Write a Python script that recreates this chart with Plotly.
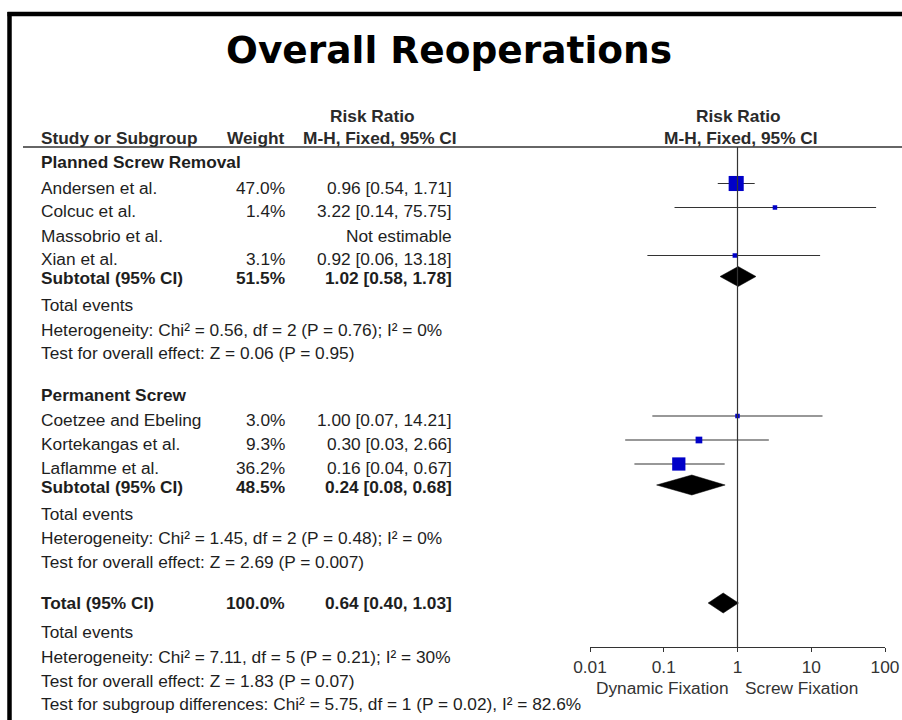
import plotly.graph_objects as go
import math

# ---------------- data ----------------
title_text = "Overall Reoperations"

group_names = ["Planned Screw Removal", "Permanent Screw"]

study_names = ["Andersen et al.", "Colcuc et al.", "Massobrio et al.", "Xian et al.",
               "Coetzee and Ebeling", "Kortekangas et al.", "Laflamme et al."]
study_group = [0, 0, 0, 0, 1, 1, 1]
study_weight = [47.0, 1.4, None, 3.1, 3.0, 9.3, 36.2]
study_rr = [0.96, 3.22, None, 0.92, 1.00, 0.30, 0.16]
study_low = [0.54, 0.14, None, 0.06, 0.07, 0.03, 0.04]
study_high = [1.71, 75.75, None, 13.18, 14.21, 2.66, 0.67]

sub_weight = [51.5, 48.5]
sub_rr = [1.02, 0.24]
sub_low = [0.58, 0.08]
sub_high = [1.78, 0.68]
sub_het = ["Heterogeneity: Chi² = 0.56, df = 2 (P = 0.76); I² = 0%",
           "Heterogeneity: Chi² = 1.45, df = 2 (P = 0.48); I² = 0%"]
sub_test = ["Test for overall effect: Z = 0.06 (P = 0.95)",
            "Test for overall effect: Z = 2.69 (P = 0.007)"]

total_weight = 100.0
total_rr = 0.64
total_low = 0.40
total_high = 1.03
total_het = "Heterogeneity: Chi² = 7.11, df = 5 (P = 0.21); I² = 30%"
total_test = "Test for overall effect: Z = 1.83 (P = 0.07)"
subgroup_test = "Test for subgroup differences: Chi² = 5.75, df = 1 (P = 0.02), I² = 82.6%"

tick_vals = [0.01, 0.1, 1, 10, 100]
tick_text = ["0.01", "0.1", "1", "10", "100"]
favours_left = "Dynamic Fixation"
favours_right = "Screw Fixation"

# ---------------- layout helpers ----------------
W, H = 902, 720
FONT = "Liberation Sans, Arial, sans-serif"
TXT = "#1e1e1e"
FS = 17.3

def px(x):
    return x / W

def py(y):
    return 1 - y / H

annotations = []

def text(x, y, s, anchor="left", bold=False, size=FS, color=TXT, family=FONT):
    if bold:
        s = "<b>" + s + "</b>"
    annotations.append(dict(x=px(x), y=py(y), xref="paper", yref="paper", text=s,
                            showarrow=False, xanchor=anchor, yanchor="middle",
                            font=dict(family=family, size=size, color=color)))

def fmt_ci(r, lo, hi):
    return f"{r:.2f} [{lo:.2f}, {hi:.2f}]"

X_NAME = 39
X_WEIGHT = 287
X_CI = 454
TEXT_DY = 1  # text vs row center

fig = go.Figure()

# ---------------- rows ----------------
cursor = 161
rows_marker = []   # (y, rr, lo, hi, w)
rows_diamond = []  # (y, rr, lo, hi)

for g, gname in enumerate(group_names):
    if g > 0:
        cursor += 41
    text(X_NAME, cursor + TEXT_DY, gname, bold=True)
    first = True
    for i, name in enumerate(study_names):
        if study_group[i] != g:
            continue
        cursor += 25.5 if first else 24
        first = False
        text(X_NAME, cursor + TEXT_DY, name)
        if study_rr[i] is None:
            text(X_CI, cursor + TEXT_DY, "Not estimable", anchor="right")
        else:
            text(X_WEIGHT, cursor + TEXT_DY, f"{study_weight[i]:.1f}%", anchor="right")
            text(X_CI, cursor + TEXT_DY, fmt_ci(study_rr[i], study_low[i], study_high[i]), anchor="right")
            rows_marker.append((cursor - 3, study_rr[i], study_low[i], study_high[i], study_weight[i]))
    cursor += 18.5
    text(X_NAME, cursor + TEXT_DY, "Subtotal (95% CI)", bold=True)
    text(X_WEIGHT, cursor + TEXT_DY, f"{sub_weight[g]:.1f}%", anchor="right", bold=True)
    text(X_CI, cursor + TEXT_DY, fmt_ci(sub_rr[g], sub_low[g], sub_high[g]), anchor="right", bold=True)
    rows_diamond.append((cursor - 0.5, sub_rr[g], sub_low[g], sub_high[g]))
    cursor += 27.5
    text(X_NAME, cursor + TEXT_DY, "Total events")
    cursor += 24
    text(X_NAME, cursor + TEXT_DY, sub_het[g])
    cursor += 24
    text(X_NAME, cursor + TEXT_DY, sub_test[g])

cursor += 41
text(X_NAME, cursor + TEXT_DY, "Total (95% CI)", bold=True)
text(X_WEIGHT, cursor + TEXT_DY, f"{total_weight:.1f}%", anchor="right", bold=True)
text(X_CI, cursor + TEXT_DY, fmt_ci(total_rr, total_low, total_high), anchor="right", bold=True)
rows_diamond.append((cursor + 1, total_rr, total_low, total_high))
cursor += 29
text(X_NAME, cursor + TEXT_DY, "Total events")
cursor += 25
text(X_NAME, cursor + TEXT_DY, total_het)
cursor += 24
text(X_NAME, cursor + TEXT_DY, total_test)
cursor += 23
text(X_NAME, cursor + TEXT_DY, subgroup_test)

# ---------------- headers ----------------
HC = "#2a2a2a"
text(372, 116, "Risk Ratio", anchor="center", bold=True, color=HC)
text(X_NAME, 138, "Study or Subgroup", bold=True, color=HC)
text(X_WEIGHT, 138, "Weight", anchor="right", bold=True, color=HC)
text(459, 138, "M-H, Fixed, 95% CI", anchor="right", bold=True, color=HC)
text(738, 116, "Risk Ratio", anchor="center", bold=True, color=HC)
text(740.5, 138, "M-H, Fixed, 95% CI", anchor="center", bold=True, color=HC)

# title
annotations.append(dict(x=px(449), y=py(50), xref="paper", yref="paper",
                        text="<b>" + title_text + "</b>", showarrow=False,
                        xanchor="center", yanchor="middle",
                        font=dict(family="DejaVu Sans", size=37.5, color="black")))

# favours labels
text(662.5, 688, favours_left, anchor="center", color="#333333")
text(801.5, 688, favours_right, anchor="center", color="#333333")

# ---------------- forest marks ----------------
LINEC = "#333333"
for (y, r, lo, hi, w) in rows_marker:
    fig.add_trace(go.Scatter(x=[lo, hi], y=[y, y], mode="lines",
                             line=dict(color=LINEC, width=1.2), showlegend=False,
                             hoverinfo="skip"))
for (y, r, lo, hi, w) in rows_marker:
    fig.add_trace(go.Scatter(x=[r], y=[y], mode="markers",
                             marker=dict(symbol="square", color="#0000C8",
                                         size=max(4.5, 2.2 * math.sqrt(w)),
                                         line=dict(width=0)),
                             showlegend=False, hoverinfo="skip"))

DH = 10
for (y, r, lo, hi) in rows_diamond:
    fig.add_trace(go.Scatter(x=[lo, r, hi, r, lo], y=[y, y - DH, y, y + DH, y],
                             mode="lines", fill="toself", fillcolor="black",
                             line=dict(color="black", width=0.5),
                             showlegend=False, hoverinfo="skip"))

AX_Y = 647
HEAD_LINE_Y = 147

shapes = [
    # vertical line at RR = 1
    dict(type="line", xref="x", yref="y", x0=1, x1=1, y0=HEAD_LINE_Y, y1=AX_Y,
         line=dict(color=LINEC, width=1.2)),
    # header rule
    dict(type="line", xref="paper", yref="paper", x0=px(23), x1=1.0,
         y0=py(HEAD_LINE_Y), y1=py(HEAD_LINE_Y), line=dict(color=LINEC, width=1.3)),
    # frame
    dict(type="line", xref="paper", yref="paper", x0=px(7.5), x1=1.0,
         y0=py(14), y1=py(14), line=dict(color="black", width=4.5)),
    dict(type="line", xref="paper", yref="paper", x0=px(9.5), x1=px(9.5),
         y0=py(12), y1=0, line=dict(color="black", width=4.5)),
]

fig.update_layout(
    width=W, height=H, autosize=False,
    margin=dict(l=0, r=0, t=0, b=0, autoexpand=False),
    paper_bgcolor="white", plot_bgcolor="white",
    showlegend=False,
    annotations=annotations,
    shapes=shapes,
    xaxis=dict(type="log", range=[-2, 2], domain=[px(590), px(885)],
               tickvals=tick_vals, ticktext=tick_text,
               showline=True, linecolor=LINEC, linewidth=1.2,
               ticks="outside", ticklen=4, tickwidth=1.2, tickcolor=LINEC,
               showgrid=False, zeroline=False, automargin=False,
               tickfont=dict(family=FONT, size=FS, color="#333333"),
               fixedrange=True),
    yaxis=dict(range=[AX_Y, 0], domain=[1 - AX_Y / H, 1], automargin=False,
               showgrid=False, zeroline=False, showticklabels=False,
               showline=False, ticks="", fixedrange=True),
)

fig.write_html(
    "out.html",
    config={"responsive": False, "displayModeBar": False},
    post_script="document.documentElement.style.overflow='hidden';"
                "document.body.style.margin='0';document.body.style.overflow='hidden';",
)
